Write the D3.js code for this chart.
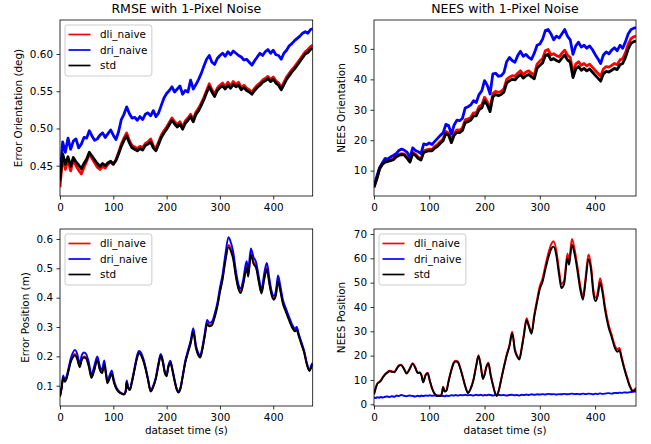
<!DOCTYPE html>
<html>
<head>
<meta charset="utf-8">
<script src="https://cdnjs.cloudflare.com/ajax/libs/d3/7.8.5/d3.min.js"></script>
<style>
body{margin:0;background:#fff;}
svg text{font-family:"DejaVu Sans", sans-serif;fill:#000;}
</style>
</head>
<body>
<svg id="chart" width="651" height="444"></svg>
<script>
var seriesNames = ["dli_naive", "dri_naive", "std"];
var seriesColors = ["#ff0000", "#0000ff", "#000000"];
var xTicks = [0, 100, 200, 300, 400];

// top row is sampled every 5 s
var timeTop = d3.range(0, 471, 5).concat([474]);

var rmseOriDli = [
	0.421,0.463,0.445,0.458,0.443,0.458,0.450,0.444,0.439,0.448,
	0.456,0.466,0.460,0.454,0.448,0.445,0.449,0.447,0.452,0.455,
	0.452,0.458,0.468,0.479,0.487,0.494,0.484,0.477,0.475,0.473,
	0.476,0.474,0.480,0.482,0.486,0.477,0.473,0.482,0.491,0.497,
	0.502,0.508,0.514,0.509,0.505,0.509,0.502,0.510,0.514,0.519,
	0.512,0.522,0.527,0.534,0.542,0.551,0.560,0.552,0.546,0.554,
	0.558,0.561,0.556,0.562,0.557,0.563,0.559,0.562,0.555,0.558,
	0.554,0.552,0.549,0.554,0.558,0.561,0.565,0.567,0.570,0.566,
	0.569,0.564,0.561,0.555,0.562,0.569,0.574,0.579,0.583,0.588,
	0.593,0.598,0.603,0.606,0.610,0.612];
var rmseOriDri = [
	0.435,0.482,0.468,0.487,0.472,0.483,0.486,0.474,0.479,0.488,
	0.487,0.497,0.490,0.484,0.486,0.491,0.494,0.488,0.493,0.498,
	0.491,0.485,0.496,0.512,0.519,0.529,0.520,0.514,0.515,0.511,
	0.516,0.512,0.519,0.521,0.517,0.524,0.516,0.521,0.531,0.541,
	0.547,0.551,0.556,0.549,0.553,0.557,0.546,0.551,0.549,0.565,
	0.553,0.559,0.566,0.574,0.584,0.593,0.598,0.589,0.586,0.594,
	0.598,0.601,0.597,0.603,0.599,0.604,0.601,0.598,0.596,0.592,
	0.593,0.589,0.585,0.591,0.596,0.601,0.598,0.603,0.606,0.601,
	0.605,0.599,0.598,0.593,0.601,0.605,0.611,0.614,0.618,0.621,
	0.624,0.628,0.630,0.628,0.633,0.634];
var rmseOriStd = [
	0.430,0.466,0.452,0.462,0.449,0.461,0.455,0.451,0.446,0.453,
	0.459,0.468,0.463,0.458,0.453,0.449,0.453,0.450,0.454,0.456,
	0.452,0.457,0.466,0.476,0.484,0.490,0.481,0.474,0.472,0.470,
	0.473,0.471,0.477,0.479,0.482,0.474,0.470,0.479,0.488,0.494,
	0.499,0.505,0.511,0.506,0.502,0.506,0.499,0.507,0.511,0.516,
	0.509,0.519,0.524,0.531,0.539,0.548,0.556,0.549,0.543,0.551,
	0.555,0.557,0.553,0.558,0.554,0.559,0.556,0.558,0.552,0.555,
	0.551,0.549,0.546,0.551,0.555,0.558,0.562,0.564,0.567,0.563,
	0.566,0.561,0.558,0.552,0.559,0.566,0.571,0.576,0.580,0.585,
	0.590,0.595,0.600,0.602,0.606,0.608];

var neesOriDli = [
	4.6,7.4,10.7,12.2,13.0,13.2,13.5,13.8,14.8,15.3,
	15.6,15.4,14.3,13.1,16.0,15.4,14.4,13.9,16.5,16.8,
	17.1,17.0,18.0,18.6,19.6,20.4,22.9,22.3,19.9,22.4,
	23.4,23.3,24.0,26.7,27.0,27.5,29.0,29.0,31.0,31.6,
	34.1,32.6,30.4,35.3,36.1,35.7,36.1,36.9,40.0,40.7,
	41.2,41.0,42.0,42.8,41.6,42.4,42.8,42.0,41.4,45.0,
	46.0,46.8,49.4,49.8,48.0,48.4,47.8,47.4,48.6,49.6,
	48.0,47.2,42.2,45.0,45.8,44.6,45.2,44.4,45.0,44.0,
	43.0,42.0,41.0,43.4,44.2,44.0,44.6,45.2,44.8,46.4,
	46.8,48.8,51.6,53.4,54.0,54.2];
var neesOriDri = [
	5.0,8.0,11.0,12.5,14.0,13.8,14.5,15.0,15.6,16.6,
	17.1,16.7,16.0,14.3,17.5,16.6,16.2,15.6,18.8,18.5,
	19.1,18.6,19.6,20.6,21.6,22.4,25.2,24.8,22.0,25.0,
	26.6,26.4,27.2,30.6,31.0,31.6,33.0,32.4,35.0,36.2,
	39.6,38.0,35.2,41.8,42.0,41.0,41.2,42.2,45.8,47.2,
	46.2,45.6,47.8,49.2,47.6,48.2,47.2,46.6,48.6,51.2,
	51.6,53.2,56.0,56.4,55.0,53.0,54.2,53.6,55.0,56.4,
	54.2,53.0,48.2,51.0,52.2,50.6,51.2,50.2,51.0,49.8,
	48.2,46.8,45.2,48.0,49.0,48.4,49.6,50.4,49.4,51.2,
	50.2,52.4,55.0,56.4,56.8,57.0];
var neesOriStd = [
	4.5,7.2,10.5,12.0,12.8,13.0,13.3,13.6,14.5,15.0,
	15.3,15.1,14.0,12.8,15.6,15.0,14.0,13.5,16.0,16.3,
	16.6,16.5,17.4,18.0,19.0,19.8,22.2,21.6,19.2,21.6,
	22.6,22.5,23.2,25.8,26.1,26.6,28.0,28.0,30.0,30.6,
	33.0,31.6,29.4,34.2,35.0,34.6,35.0,35.8,38.8,39.5,
	40.0,39.8,40.8,41.6,40.4,41.2,41.6,40.8,40.2,43.6,
	44.6,45.4,47.8,48.2,46.4,46.8,46.2,45.8,47.0,48.0,
	46.4,45.6,40.6,43.4,44.2,43.0,43.6,42.8,43.4,42.4,
	41.4,40.4,39.4,41.8,42.6,42.4,43.0,43.6,43.2,44.8,
	45.2,47.2,50.0,51.8,52.4,52.6];

// bottom row is sampled at the turning points
var timeBottom = [
	0,3,6,9,12,16,20,24,28,32,
	37,41,45,49,54,59,64,70,75,79,
	83,86,89,93,97,101,105,110,115,120,
	123,125,128,131,135,140,144,148,152,156,
	160,165,170,175,180,185,189,193,197,200,
	203,207,211,215,219,222,226,230,235,240,
	245,250,255,259,263,267,271,276,280,285,
	290,295,300,305,310,316,321,325,330,335,
	339,344,350,353,358,363,368,373,378,383,
	388,393,397,401,405,409,413,418,424,430,
	436,441,444,448,453,458,463,468,472,474];

var rmsePosDli = [
	0.064,0.092,0.130,0.115,0.125,0.153,0.184,0.200,0.208,0.196,
	0.167,0.192,0.200,0.196,0.169,0.130,0.154,0.190,0.156,0.146,
	0.176,0.144,0.112,0.128,0.144,0.115,0.094,0.080,0.074,0.071,
	0.079,0.114,0.092,0.087,0.114,0.158,0.193,0.213,0.207,0.189,
	0.163,0.122,0.082,0.098,0.127,0.175,0.205,0.181,0.143,0.135,
	0.163,0.181,0.153,0.117,0.088,0.079,0.092,0.130,0.181,0.215,
	0.247,0.287,0.232,0.208,0.199,0.225,0.266,0.314,0.306,0.310,
	0.337,0.373,0.424,0.468,0.530,0.580,0.564,0.537,0.476,0.433,
	0.420,0.453,0.507,0.479,0.553,0.522,0.507,0.458,0.419,0.468,
	0.502,0.450,0.413,0.397,0.413,0.462,0.431,0.385,0.354,0.326,
	0.300,0.288,0.293,0.271,0.243,0.214,0.174,0.152,0.168,0.175];
var rmsePosDri = [
	0.066,0.095,0.135,0.120,0.130,0.160,0.192,0.212,0.222,0.210,
	0.177,0.205,0.213,0.208,0.180,0.138,0.165,0.200,0.165,0.155,
	0.186,0.150,0.118,0.135,0.152,0.120,0.097,0.082,0.075,0.072,
	0.080,0.118,0.094,0.089,0.118,0.163,0.199,0.218,0.212,0.194,
	0.167,0.125,0.084,0.100,0.131,0.180,0.208,0.185,0.146,0.138,
	0.167,0.185,0.156,0.120,0.090,0.081,0.094,0.133,0.185,0.220,
	0.253,0.296,0.238,0.213,0.204,0.231,0.273,0.324,0.314,0.318,
	0.344,0.381,0.434,0.480,0.545,0.606,0.585,0.555,0.490,0.443,
	0.430,0.465,0.524,0.493,0.568,0.538,0.520,0.470,0.428,0.482,
	0.518,0.462,0.422,0.406,0.424,0.476,0.443,0.394,0.362,0.333,
	0.306,0.294,0.300,0.276,0.248,0.219,0.178,0.155,0.172,0.178];
var rmsePosStd = [
	0.062,0.090,0.128,0.113,0.122,0.150,0.180,0.196,0.204,0.192,
	0.163,0.188,0.196,0.192,0.165,0.126,0.150,0.186,0.152,0.142,
	0.172,0.140,0.108,0.124,0.140,0.112,0.092,0.079,0.073,0.070,
	0.078,0.112,0.090,0.085,0.112,0.155,0.190,0.210,0.204,0.186,
	0.160,0.120,0.080,0.096,0.125,0.172,0.202,0.178,0.140,0.132,
	0.160,0.178,0.150,0.115,0.086,0.077,0.090,0.128,0.178,0.212,
	0.243,0.282,0.228,0.205,0.196,0.222,0.262,0.310,0.302,0.306,
	0.332,0.368,0.418,0.462,0.522,0.572,0.556,0.530,0.470,0.428,
	0.416,0.448,0.500,0.472,0.545,0.515,0.500,0.452,0.414,0.462,
	0.495,0.444,0.408,0.393,0.408,0.455,0.425,0.380,0.350,0.322,
	0.296,0.285,0.290,0.268,0.240,0.212,0.172,0.150,0.165,0.172];

var neesPosDli = [
	4.2,6.7,8.6,9.2,9.8,11.2,12.4,13.2,13.8,13.6,
	13.4,14.7,16.0,16.3,14.8,12.8,14.4,16.9,15.0,13.0,
	13.2,12.0,9.2,12.0,13.0,9.8,6.7,4.3,3.6,3.5,
	4.7,7.2,5.3,5.7,9.7,14.3,17.1,17.9,17.5,15.0,
	11.8,7.6,4.8,6.6,10.3,16.1,20.2,16.3,10.6,12.3,
	15.3,17.1,12.3,8.2,4.8,3.6,6.0,10.3,15.5,20.4,
	24.3,29.8,22.5,20.0,18.8,23.1,28.6,35.4,32.8,29.7,
	36.9,43.0,48.6,51.8,57.0,62.6,66.0,67.0,63.0,54.8,
	49.4,51.0,62.0,59.2,68.0,63.6,56.8,49.0,44.4,52.6,
	61.6,56.4,47.0,43.8,46.4,51.8,48.0,40.2,33.2,28.6,
	24.0,22.6,23.2,19.6,15.0,11.1,7.6,5.7,6.2,6.8];
var neesPosDri = [
	2.8,2.6,2.9,2.7,3.0,2.8,3.1,3.2,3.0,3.3,
	3.1,3.6,3.4,3.8,3.5,3.3,3.6,3.4,3.2,3.5,
	3.3,3.6,3.4,3.6,3.5,3.7,3.5,3.6,3.4,3.6,
	3.4,3.5,3.3,3.6,3.4,3.7,3.6,3.8,3.6,3.8,
	3.7,3.9,3.7,3.8,3.6,3.9,3.7,3.9,3.6,3.8,
	3.7,3.9,3.8,3.6,3.8,3.7,3.9,3.7,3.8,3.6,
	3.8,3.9,3.7,3.8,3.6,3.9,3.8,4.0,3.8,4.1,
	3.9,4.1,4.0,4.2,4.0,4.3,4.1,4.2,4.0,4.2,
	4.1,4.3,4.1,4.2,4.4,4.2,4.3,4.1,4.4,4.2,
	4.4,4.3,4.1,4.4,4.2,4.5,4.3,4.4,4.6,4.4,
	4.7,4.6,4.8,4.7,4.9,4.8,5.0,5.1,5.2,5.2];
var neesPosStd = [
	4.0,6.5,8.4,9.0,9.5,11.0,12.2,13.0,13.6,13.4,
	13.2,14.5,15.8,16.1,14.6,12.6,14.2,16.6,14.8,12.8,
	13.0,11.8,9.0,11.8,12.8,9.6,6.5,4.2,3.5,3.4,
	4.6,7.0,5.2,5.6,9.5,14.0,16.8,17.6,17.2,14.8,
	11.6,7.4,4.6,6.4,10.0,15.8,19.8,16.0,10.4,12.0,
	15.0,16.8,12.0,8.0,4.6,3.4,5.8,10.0,15.2,20.0,
	23.8,29.2,22.0,19.6,18.4,22.6,28.0,34.6,32.0,29.0,
	36.0,42.0,47.4,50.4,55.4,60.8,64.0,64.8,61.0,53.0,
	47.8,49.5,60.0,57.4,65.6,61.6,55.0,47.4,43.0,51.0,
	59.6,54.6,45.4,42.4,44.8,50.0,46.4,38.8,32.0,27.6,
	23.0,21.6,22.2,18.8,14.4,10.6,7.2,5.4,5.8,6.4];

var svg = d3.select("#chart");
var FONT = 10.4;

var panels = [
	{id:"a", left:60, right:312.7, top:20, bottom:196, time:timeTop,
	 series:[rmseOriDli, rmseOriDri, rmseOriStd], yDomain:[0.4093, 0.6457],
	 yTicks:[0.45, 0.50, 0.55, 0.60], yFormat:".2f", width:2.8, curve:d3.curveLinear,
	 title:"RMSE with 1-Pixel Noise", ylabel:"Error Orientation (deg)", ylabelX:18.5, legend:true},
	{id:"b", left:374, right:636, top:20, bottom:196, time:timeTop,
	 series:[neesOriDli, neesOriDri, neesOriStd], yDomain:[1.67, 59.5],
	 yTicks:[10, 20, 30, 40, 50], yFormat:"d", width:2.8, curve:d3.curveLinear,
	 title:"NEES with 1-Pixel Noise", ylabel:"NEES Orientation", ylabelX:341.7, legend:false},
	{id:"c", left:60, right:312.7, top:229, bottom:406, time:timeBottom,
	 series:[rmsePosDli, rmsePosDri, rmsePosStd], yDomain:[0.0308, 0.634],
	 yTicks:[0.1, 0.2, 0.3, 0.4, 0.5, 0.6], yFormat:".1f", width:1.9, curve:d3.curveMonotoneX,
	 ylabel:"Error Position (m)", ylabelX:25, xlabel:"dataset time (s)", legend:true},
	{id:"d", left:374, right:636, top:229, bottom:406, time:timeBottom,
	 series:[neesPosDli, neesPosDri, neesPosStd], yDomain:[-0.7, 72.05],
	 yTicks:[0, 10, 20, 30, 40, 50, 60, 70], yFormat:"d", width:1.9, curve:d3.curveMonotoneX,
	 ylabel:"NEES Position", ylabelX:341.7, xlabel:"dataset time (s)", legend:true}
];

function styleAxis(g){
	g.select(".domain").remove();
	g.selectAll(".tick line").attr("stroke", "#000").attr("stroke-width", 0.8);
	g.selectAll(".tick text").attr("font-size", FONT).attr("font-family", "DejaVu Sans").attr("fill", "#000");
}

function drawLegend(p){
	var boxX = p.left + 5, boxY = p.top + 5;
	var rows = [14.5, 30, 45.5];
	var lg = svg.append("g");
	var box = lg.append("rect")
		.attr("x", boxX).attr("y", boxY).attr("height", 51).attr("rx", 2.5)
		.attr("fill", "#fff").attr("fill-opacity", 0.8)
		.attr("stroke", "#cccccc").attr("stroke-width", 1);
	var widest = 0;
	seriesNames.forEach(function(name, i){
		var yy = p.top + rows[i];
		lg.append("line")
			.attr("x1", boxX + 3.5).attr("x2", boxX + 25.5)
			.attr("y1", yy).attr("y2", yy)
			.attr("stroke", seriesColors[i]).attr("stroke-width", 1.7);
		var t = lg.append("text")
			.attr("x", boxX + 35).attr("y", yy).attr("dy", "0.36em")
			.attr("font-size", FONT).text(name);
		widest = Math.max(widest, t.node().getComputedTextLength());
	});
	box.attr("width", 35 + widest + 4.5);
}

function drawPanel(p){
	var x = d3.scaleLinear().domain([0, 474]).range([p.left, p.right]);
	var y = d3.scaleLinear().domain(p.yDomain).range([p.bottom, p.top]);

	svg.append("clipPath").attr("id", "clip" + p.id)
		.append("rect")
		.attr("x", p.left).attr("y", p.top)
		.attr("width", p.right - p.left).attr("height", p.bottom - p.top);

	var line = d3.line()
		.curve(p.curve)
		.x(function(d){ return x(d[0]); })
		.y(function(d){ return y(d[1]); });

	var plot = svg.append("g").attr("clip-path", "url(#clip" + p.id + ")");
	p.series.forEach(function(vals, i){
		var pts = p.time.map(function(t, j){ return [t, vals[j]]; });
		plot.append("path").datum(pts)
			.attr("d", line)
			.attr("fill", "none")
			.attr("stroke", seriesColors[i])
			.attr("stroke-width", p.width)
			.attr("stroke-linejoin", "round");
	});

	svg.append("rect")
		.attr("x", p.left).attr("y", p.top)
		.attr("width", p.right - p.left).attr("height", p.bottom - p.top)
		.attr("fill", "none").attr("stroke", "#000").attr("stroke-width", 0.8);

	svg.append("g")
		.attr("transform", "translate(0," + p.bottom + ")")
		.call(d3.axisBottom(x).tickValues(xTicks).tickSizeInner(3.5).tickSizeOuter(0).tickPadding(4.3).tickFormat(d3.format("d")))
		.call(styleAxis);

	svg.append("g")
		.attr("transform", "translate(" + p.left + ",0)")
		.call(d3.axisLeft(y).tickValues(p.yTicks).tickSizeInner(3.5).tickSizeOuter(0).tickPadding(3.5).tickFormat(d3.format(p.yFormat)))
		.call(styleAxis);

	var cy = (p.top + p.bottom) / 2;
	svg.append("text")
		.attr("transform", "translate(" + p.ylabelX + "," + cy + ") rotate(-90)")
		.attr("text-anchor", "middle").attr("dy", "0.36em")
		.attr("font-size", FONT).text(p.ylabel);

	if(p.title){
		svg.append("text")
			.attr("x", (p.left + p.right) / 2).attr("y", 13)
			.attr("text-anchor", "middle").attr("font-size", 12.5)
			.text(p.title);
	}
	if(p.xlabel){
		svg.append("text")
			.attr("x", (p.left + p.right) / 2).attr("y", 433.5)
			.attr("text-anchor", "middle").attr("font-size", FONT)
			.text(p.xlabel);
	}
	if(p.legend)
		drawLegend(p);
}

panels.forEach(drawPanel);
</script>
</body>
</html>
